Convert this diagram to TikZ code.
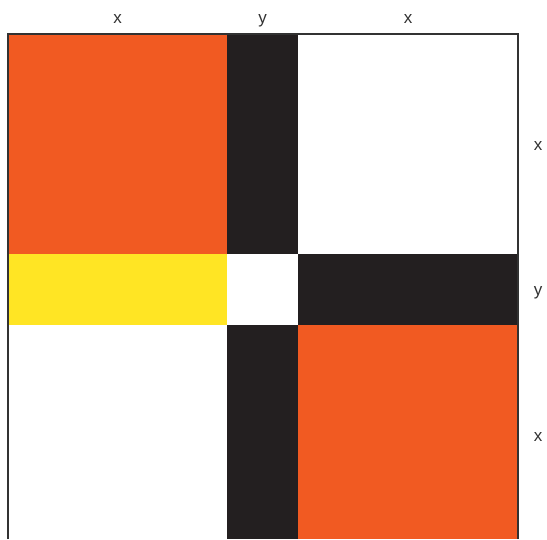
\documentclass[tikz,border=0pt]{standalone}
\usepackage{fontspec}
\setmainfont{Liberation Sans}
\definecolor{blockorange}{RGB}{241,90,34}
\definecolor{blockblack}{RGB}{35,31,32}
\definecolor{blockyellow}{RGB}{255,229,36}
\definecolor{framegray}{RGB}{50,50,50}
\usetikzlibrary{positioning}

\begin{document}
\begin{tikzpicture}[x=1pt, y=-1pt,
        frame/.style={draw=framegray, line width=1.4pt},
        lbl/.style={font=\fontsize{17}{20}\selectfont, text=framegray, inner sep=0pt, anchor=base}
    ]
        \useasboundingbox (0,0) rectangle (547,539);
        % blocks
        \fill[blockorange] (8,34) rectangle (227,254);
        \fill[blockblack] (227,34) rectangle (298,254);
        \fill[blockyellow] (8,254) rectangle (227,325);
        \fill[blockblack] (298,254) rectangle (518,325);
        \fill[blockblack] (227,325) rectangle (298,539);
        \fill[blockorange] (298,325) rectangle (518,539);
        \draw[frame] (8,539) -- (8,34) -- (518,34) -- (518,539);
        % labels
        \node[lbl] (TOPX1) at (117.5,23) {x};
        \node[lbl] (TOPY) at (262.5,23) {y};
        \node[lbl] (TOPX2) at (408,23) {x};
        \node[lbl] (RIGHTX1) at (538,150) {x};
        \node[lbl] (RIGHTY) at (538,295) {y};
        \node[lbl] (RIGHTX2) at (538,441) {x};
    \end{tikzpicture}
\end{document}
